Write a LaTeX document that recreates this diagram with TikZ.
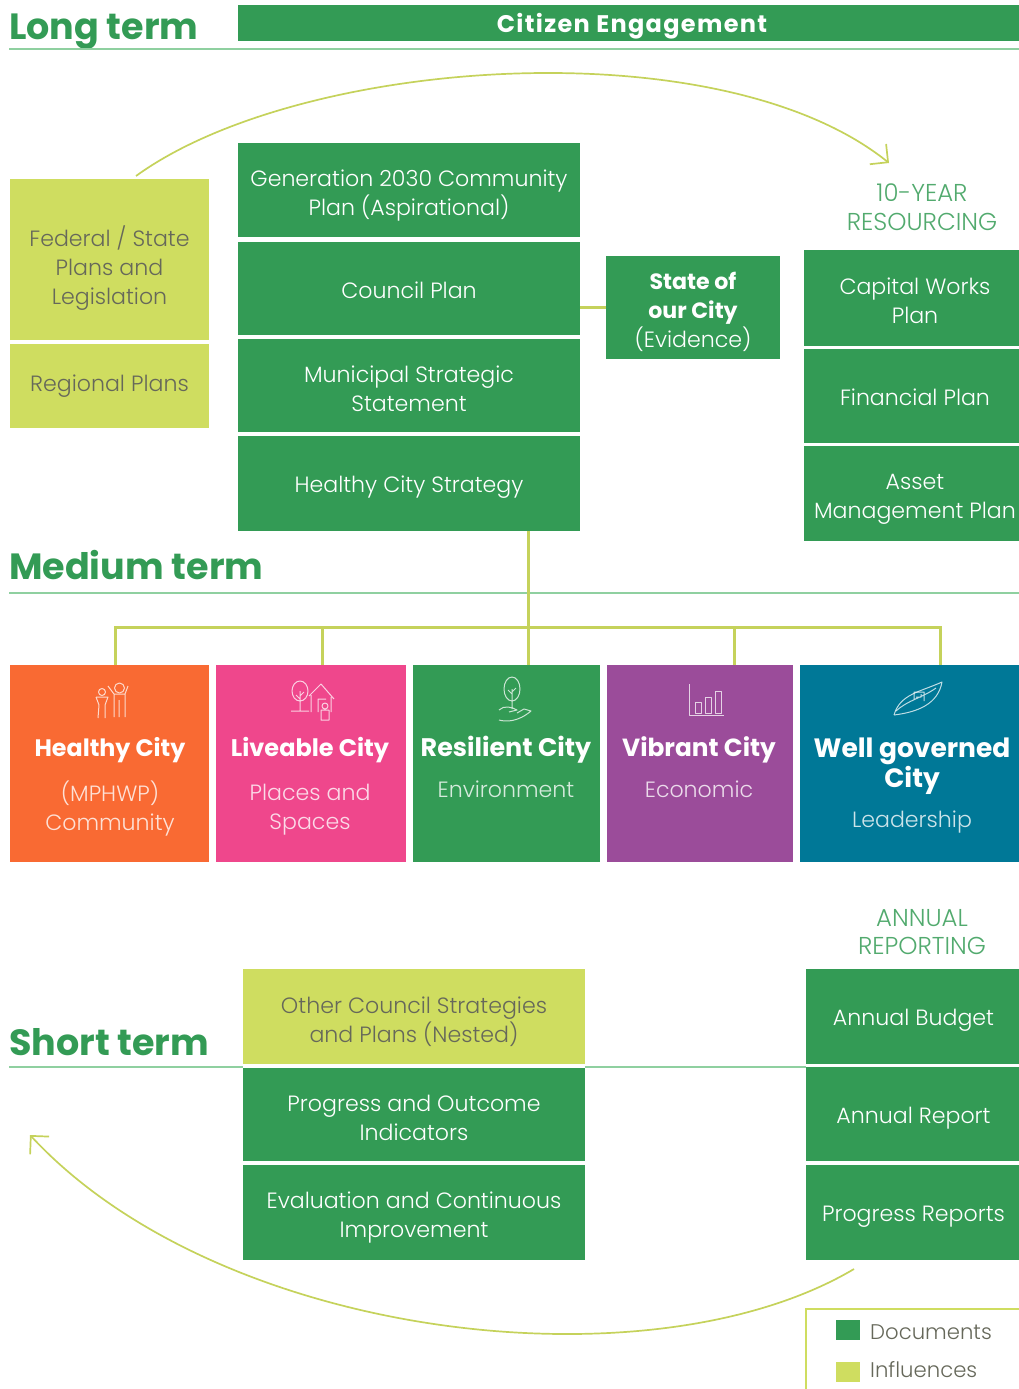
\documentclass[tikz,border=0pt]{standalone}
\usepackage{fontspec}
\setmainfont{Poppins}[UprightFont=* Light, BoldFont=* Bold]
\usepackage{tikz}
\usetikzlibrary{positioning, arrows.meta}
\definecolor{docgreen}{HTML}{339B55}
\definecolor{lime}{HTML}{CFDD60}
\definecolor{rulegreen}{HTML}{8FD0A0}
\definecolor{cityorange}{HTML}{F96A33}
\definecolor{citypink}{HTML}{EF478C}
\definecolor{citypurple}{HTML}{9B4C9A}
\definecolor{cityteal}{HTML}{007897}
\definecolor{inktext}{HTML}{66685A}
\newcommand{\Body}{\fontsize{22.1}{29}\selectfont}
\newcommand{\Drop}[1]{\rule{0pt}{#1pt}}
\tikzset{
    box/.style={anchor=north west, inner sep=0pt, outer sep=0pt, align=center, font=\Body},
    drop/.style={execute at begin node={\rule{0pt}{#1pt}}, execute at end node={\rule[-5pt]{0pt}{5pt}}},
    docbox/.style={box, fill=docgreen, text=white, drop=24},
    inflbox/.style={box, fill=lime, text=inktext},
    citybox/.style={box, minimum height=197pt},
    citytitle/.style={inner sep=0pt, align=center, text=white, font=\fontsize{#1}{28}\selectfont\bfseries},
    citytitle/.default=24,
    citysub/.style={inner sep=0pt, align=center, text=white, text opacity=0.8, font=\Body},
    heading/.style={inner sep=0pt, anchor=base west, text=docgreen, font=\fontsize{36.5}{42}\selectfont\bfseries},
    sidehead/.style={inner sep=0pt, align=center, text=docgreen!85!white, font=\fontsize{24.4}{28.5}\selectfont},
    keytext/.style={inner sep=0pt, anchor=west, text=inktext, font=\fontsize{21.2}{28}\selectfont},
    swatch/.style={minimum width=24pt, minimum height=20pt, inner sep=0pt, outer sep=0pt, anchor=north west},
    link/.style={draw=lime!95!black, line width=3pt},
    rule/.style={draw=rulegreen, line width=1.6pt},
    sweep/.style={draw=lime!95!black, line width=1.7pt, -{Straight Barb[length=13pt, width=26pt]}},
    icon/.style={draw=white, draw opacity=0.75, line width=1pt, line join=round},
    family/.pic = {
    \draw[icon] (-9,-8) circle (3.5) (-13,18) -- (-12,5) -- (-15,-3) (-6,18) -- (-6,5) -- (-3,-3) -- (-15,-3);
    \draw[icon] (3,17) -- (3,-6) -- (-3,-14) (14,17) -- (14,-6) -- (17,-14) (3,-6) -- (14,-6) (8,17) -- (8,0);
    \draw[icon] (8.5,-12) circle (5);
    },
    treehouse/.pic = {
    \draw[icon] (-12,-8) ellipse (8 and 10) (-12,-8) -- (-12,12) (-12,0) -- (-16,-4) (-12,-3) -- (-8,-7) (-21,12) -- (-3,12);
    \draw[icon] (-3,-3) -- (9,-15) -- (22,0) (-1,-4) -- (-1,13) (19,-2) -- (19,13) (6,13) -- (6,0) -- (14,0);
    \draw[icon] (13,7) circle (3) (9,21) -- (9,11) -- (17,11) -- (17,21) -- cycle;
    },
    treehand/.pic = {
    \draw[icon] (0,-9) ellipse (8 and 12) (0,-9) -- (0,11) (0,-4) -- (-4,-8) (0,-6) -- (4,-10);
    \draw[icon] (-13,12) .. controls (-8,7) and (0,9) .. (5,12) -- (-3,14) (-13,22) .. controls (-6,24) and (6,24) .. (19,13) -- (12,11) -- (5,15);
    },
    barchart/.pic = {
    \draw[icon] (-17,-16) -- (-17,15) -- (18,15);
    \draw[icon] (-11,13) -- (-11,2) -- (-5,2) -- (-5,13) -- cycle (-1,13) -- (-1,-3) -- (5,-3) -- (5,13) -- cycle (9,13) -- (9,-9) -- (15,-9) -- (15,13) -- cycle;
    },
    leaf/.pic = {
    \draw[icon] (-24,17) .. controls (-18,-4) and (2,-6) .. (24,-16) .. controls (20,6) and (0,14) .. (-24,17);
    \draw[icon] (-22,13) .. controls (-10,2) and (4,0) .. (18,-10) (-4,1) -- (-4,-6) -- (6,-6) -- (6,3) (-2,-1) -- (3,-1) -- (3,-4);
    },
}
\begin{document}
\begin{tikzpicture}[x=1pt, y=-1pt]
    \useasboundingbox (0,0) rectangle (1019,1389);

    % long term
    \node[heading] (longterm) at (9,40) {Long term};
    \node[docbox, minimum width=788pt, minimum height=36pt, drop=26, font=\fontsize{24}{28}\selectfont\bfseries\addfontfeature{LetterSpace=5.5}] (citizen) at (238,5) {Citizen Engagement};
    \coordinate (longL) at (9,49);
    \coordinate (longR) at (1019,49);
    \draw[rule] (longL) -- (longR);

    \node[inflbox, minimum width=199pt, minimum height=161pt] (federal) at (10,179) {\Drop{37}Federal / State\\Plans and\\Legislation};
    \node[inflbox, minimum width=199pt, minimum height=84pt, below=4pt of federal] (regional) {Regional Plans};

    \node[docbox, minimum width=342pt, minimum height=94pt] (generation) at (238,143) {\Drop{27}Generation 2030 Community\\Plan (Aspirational)};
    \node[docbox, minimum width=342pt, minimum height=93pt, below=5pt of generation] (council) {Council Plan};
    \node[docbox, minimum width=342pt, minimum height=93pt, below=4pt of council] (municipal) {\Drop{27}Municipal Strategic\\Statement};
    \node[docbox, minimum width=342pt, minimum height=95pt, below=4pt of municipal] (healthyplan) {Healthy City Strategy};

    \node[docbox, minimum width=174pt, minimum height=103pt] (state) at (606,256) {\Drop{27}\textbf{State of}\\\textbf{our City}\\(Evidence)};
    \draw[link] (state.west) -- (state.west -| council.east);

    \node[sidehead] (resourcing) at (922,207) {10-YEAR\\RESOURCING};
    \node[docbox, minimum width=222pt, minimum height=96pt] (capital) at (804,250) {\Drop{27}Capital Works\\Plan};
    \node[docbox, minimum width=222pt, minimum height=94pt, below=3pt of capital] (financial) {Financial Plan};
    \node[docbox, minimum width=222pt, minimum height=95pt, below=3pt of financial] (asset) {\Drop{27}Asset\\Management Plan};

    % medium term
    \node[heading] (mediumterm) at (9,579) {Medium term};
    \coordinate (mediumL) at (9,593);
    \coordinate (mediumR) at (1019,593);
    \draw[rule] (mediumL) -- (mediumR);

    \node[citybox, fill=cityorange, minimum width=199pt] (healthy) at (10,665) {};
    \node[citybox, fill=citypink, minimum width=190pt, right=7pt of healthy] (liveable) {};
    \node[citybox, fill=docgreen, minimum width=187pt, right=7pt of liveable] (resilient) {};
    \node[citybox, fill=citypurple, minimum width=186pt, right=7pt of resilient] (vibrant) {};
    \node[citybox, fill=cityteal, minimum width=219pt, right=7pt of vibrant] (governed) {};

    \coordinate (busA) at (115,627);
    \coordinate (busB) at (322,627);
    \coordinate (busC) at (528,627);
    \coordinate (busD) at (734,627);
    \coordinate (busE) at (940,627);
    \draw[link] (busC |- healthyplan.south) -- (busC |- resilient.north);
    \draw[link] (busA |- healthy.north) -- (busA) -- (busE) -- (busE |- governed.north);
    \draw[link] (busB) -- (busB |- liveable.north);
    \draw[link] (busD) -- (busD |- vibrant.north);

    \pic at (111,700) {family};
    \pic at (312,699) {treehouse};
    \pic at (512,698) {treehand};
    \pic at (706,700) {barchart};
    \pic at (918,698) {leaf};

    \node[citytitle=23.8] (healthyT) at (110,750) {Healthy City};
    \node[citysub] (healthyS) at (110,809) {(MPHWP)\\Community};
    \node[citytitle=24] (liveableT) at (310,750) {Liveable City};
    \node[citysub] (liveableS) at (310,810) {Places and\\Spaces};
    \node[citytitle=25.4] (resilientT) at (506,750) {Resilient City};
    \node[citysub] (resilientS) at (506,789) {Environment};
    \node[citytitle=24.8] (vibrantT) at (699,750) {Vibrant City};
    \node[citysub] (vibrantS) at (699,789) {Economic};
    \node[citytitle=26.5] (governedT) at (912,766) {Well governed\\City};
    \node[citysub] (governedS) at (912,822) {Leadership};

    % short term
    \node[heading] (shortterm) at (9,1055) {Short term};
    \node[sidehead] (reporting) at (922,932) {ANNUAL\\REPORTING};

    \node[inflbox, minimum width=342pt, minimum height=95pt] (other) at (243,969) {\Drop{28}Other Council Strategies\\and Plans (Nested)};
    \node[docbox, minimum width=342pt, minimum height=93pt, below=4pt of other] (indicators) {\Drop{27}Progress and Outcome\\Indicators};
    \node[docbox, minimum width=342pt, minimum height=95pt, below=4pt of indicators] (evaluation) {\Drop{27}Evaluation and Continuous\\Improvement};

    \node[docbox, minimum width=215pt, minimum height=95pt] (budget) at (806,969) {Annual Budget};
    \node[docbox, minimum width=215pt, minimum height=94pt, below=3pt of budget] (report) {Annual Report};
    \node[docbox, minimum width=215pt, minimum height=95pt, below=4pt of report] (progress) {Progress Reports};

    \coordinate (shortL) at (9,1067);
    \draw[rule] (shortL) -- (shortL -| other.west);
    \draw[rule] (shortL -| other.east) -- (shortL -| budget.west);

    % the two sweeping arcs
    \coordinate (upA) at (136,176);
    \coordinate (upB) at (889,163);
    \coordinate (downA) at (854,1269);
    \coordinate (downB) at (30,1135);
    \draw[sweep] (upA) .. controls (300,57) and (720,27) .. (upB);
    \draw[sweep] (downA) .. controls (650,1390) and (220,1340) .. (downB);

    % key
    \coordinate (keyA) at (806,1389);
    \coordinate (keyB) at (806,1309);
    \coordinate (keyC) at (1019,1309);
    \draw[draw=lime, line width=2pt] (keyA) -- (keyB) -- (keyC);
    \node[swatch, fill=docgreen] (keydoc) at (836,1320) {};
    \node[swatch, fill=lime, below=22pt of keydoc] (keyinfl) {};
    \node[keytext, right=10pt of keydoc, yshift=-2pt] (keydocT) {Documents};
    \node[keytext, right=10pt of keyinfl, yshift=2pt] (keyinflT) {Influences};
\end{tikzpicture}
\end{document}
